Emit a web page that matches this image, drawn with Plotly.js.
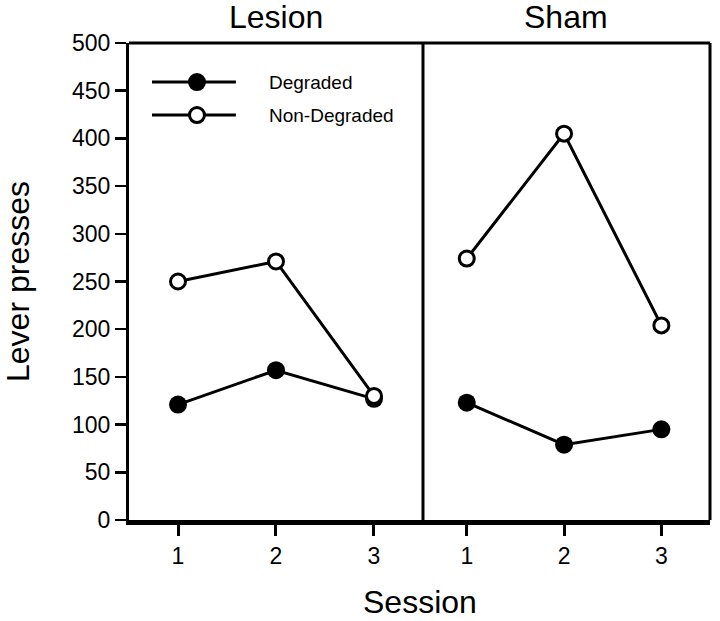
<!DOCTYPE html>
<html>
<head>
<meta charset="utf-8">
<script src="https://cdn.plot.ly/plotly-3.0.1.min.js"></script>
<style>html,body{margin:0;padding:0;background:#fff;}#chart{width:720px;height:621px;}</style>
</head>
<body>
<div id="chart"></div>
<script>
// ---- data ----
var sessions = [1, 2, 3];
var sessionTickLabels = ['1', '2', '3'];
var lesionDegraded = [121, 157, 127];
var lesionNonDegraded = [250, 271, 130];
var shamDegraded = [123, 79, 95];
var shamNonDegraded = [274, 405, 204];
var yTicks = [0, 50, 100, 150, 200, 250, 300, 350, 400, 450, 500];
var panelTitles = ['Lesion', 'Sham'];
var seriesNames = ['Degraded', 'Non-Degraded'];

var FONT = 'Liberation Sans, Arial, Helvetica, sans-serif';

function filled(xa, y, name) {
  return {x: sessions, y: y, xaxis: xa, yaxis: 'y', name: name, type: 'scatter', mode: 'lines+markers',
    line: {color: '#000', width: 3}, cliponaxis: false, showlegend: false,
    marker: {symbol: 'circle', size: 18, color: '#000', line: {width: 0}}};
}
function open(xa, y, name) {
  return {x: sessions, y: y, xaxis: xa, yaxis: 'y', name: name, type: 'scatter', mode: 'lines+markers',
    line: {color: '#000', width: 3}, cliponaxis: false, showlegend: false,
    marker: {symbol: 'circle', size: 15, color: '#fff', line: {width: 3, color: '#000'}}};
}

var traces = [
  filled('x', lesionDegraded, seriesNames[0]),
  open('x', lesionNonDegraded, seriesNames[1]),
  filled('x2', shamDegraded, seriesNames[0]),
  open('x2', shamNonDegraded, seriesNames[1])
];

var split = 0.506;
var xCommon = {
  tickvals: sessions, ticktext: sessionTickLabels, ticks: 'outside', ticklen: 11, tickwidth: 3,
  tickcolor: '#000', showgrid: false, zeroline: false, showline: true, linecolor: '#000', linewidth: 5,
  tickfont: {family: FONT, size: 23, color: '#000'}, anchor: 'y', fixedrange: true
};

var legendLineX = [0.0396, 0.184];
var legendMarkX = 0.117;
var legendY = [0.918, 0.849];
var legendTextX = 0.238;

var layout = {
  width: 720, height: 621,
  margin: {l: 129, r: 10, t: 43, b: 101},
  paper_bgcolor: '#fff', plot_bgcolor: '#fff',
  showlegend: false,
  font: {family: FONT, color: '#000'},
  xaxis: Object.assign({}, xCommon, {domain: [0, split], range: [0.5, 3.5]}),
  xaxis2: Object.assign({}, xCommon, {domain: [split, 1], range: [0.55, 3.5]}),
  yaxis: {
    range: [0, 500], tickvals: yTicks, ticks: 'outside', ticklen: 11, tickwidth: 2.5, tickcolor: '#000',
    showgrid: false, zeroline: false, showline: true, linecolor: '#000', linewidth: 3,
    tickfont: {family: FONT, size: 23, color: '#000'}, fixedrange: true,
    title: {text: 'Lever presses', font: {family: FONT, size: 32, color: '#000'}, standoff: 36}
  },
  shapes: [
    {type: 'line', xref: 'paper', yref: 'paper', x0: 0, x1: 1, y0: 1, y1: 1, line: {color: '#000', width: 3}},
    {type: 'line', xref: 'paper', yref: 'paper', x0: 1, x1: 1, y0: 0, y1: 1, line: {color: '#000', width: 3}},
    {type: 'line', xref: 'paper', yref: 'paper', x0: split, x1: split, y0: 0, y1: 1, line: {color: '#000', width: 3}},
    {type: 'line', xref: 'paper', yref: 'paper', x0: legendLineX[0], x1: legendLineX[1], y0: legendY[0], y1: legendY[0], line: {color: '#000', width: 3}},
    {type: 'line', xref: 'paper', yref: 'paper', x0: legendLineX[0], x1: legendLineX[1], y0: legendY[1], y1: legendY[1], line: {color: '#000', width: 3}},
    {type: 'circle', xref: 'paper', yref: 'paper', xsizemode: 'pixel', ysizemode: 'pixel',
     xanchor: legendMarkX, yanchor: legendY[0], x0: -9, x1: 9, y0: -9, y1: 9,
     fillcolor: '#000', line: {width: 0}},
    {type: 'circle', xref: 'paper', yref: 'paper', xsizemode: 'pixel', ysizemode: 'pixel',
     xanchor: legendMarkX, yanchor: legendY[1], x0: -7.5, x1: 7.5, y0: -7.5, y1: 7.5,
     fillcolor: '#fff', line: {width: 3, color: '#000'}}
  ],
  annotations: [
    {text: panelTitles[0], xref: 'paper', yref: 'paper', x: split / 2, y: 1.054, xanchor: 'center', yanchor: 'middle',
     showarrow: false, font: {family: FONT, size: 32, color: '#000'}},
    {text: panelTitles[1], xref: 'paper', yref: 'paper', x: (split + 1) / 2, y: 1.054, xanchor: 'center', yanchor: 'middle',
     showarrow: false, font: {family: FONT, size: 32, color: '#000'}},
    {text: seriesNames[0], xref: 'paper', yref: 'paper', x: legendTextX, y: legendY[0], xanchor: 'left', yanchor: 'middle',
     showarrow: false, font: {family: FONT, size: 19, color: '#000'}},
    {text: seriesNames[1], xref: 'paper', yref: 'paper', x: legendTextX, y: legendY[1], xanchor: 'left', yanchor: 'middle',
     showarrow: false, font: {family: FONT, size: 19, color: '#000'}},
    {text: 'Session', xref: 'paper', yref: 'paper', x: 0.5, y: -0.172, xanchor: 'center', yanchor: 'middle',
     showarrow: false, font: {family: FONT, size: 32, color: '#000'}}
  ]
};

Plotly.newPlot('chart', traces, layout, {staticPlot: true, displayModeBar: false});
</script>
</body>
</html>
